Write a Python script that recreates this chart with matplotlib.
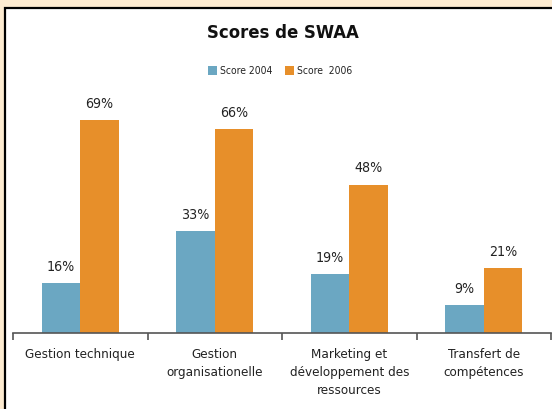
import numpy as np
import matplotlib
matplotlib.use("Agg")
import matplotlib.pyplot as plt
from matplotlib.patches import Rectangle

# donnees
categories = ["Gestion technique", "Gestion\norganisationelle",
              "Marketing et\ndéveloppement des\nressources", "Transfert de\ncompétences"]
score_2004 = [16, 33, 19, 9]
score_2006 = [69, 66, 48, 21]
series_names = ["Score 2004", "Score  2006"]

bleu = "#6ba7c2"
orange = "#e78f2a"
texte = "#222222"

plt.rcParams['font.family'] = ['DejaVu Sans']
plt.rcParams['font.stretch'] = 'condensed'

W, H = 552, 409
fig = plt.figure(figsize=(W / 100, H / 100), dpi=100)
fig.patch.set_facecolor("#fdebd0")

# cadre blanc
cadre = Rectangle((5.5 / W, -0.1), 1.2, 1 - 8.5 / H + 0.1,
                  transform=fig.transFigure, facecolor="white",
                  edgecolor="black", linewidth=1.6, zorder=-5)
fig.patches.append(cadre)

ax_left, ax_right = 13 / W, 551 / W
ax_bottom = (H - 332.5) / H
ax_top = (H - 86.1) / H
ax = fig.add_axes([ax_left, ax_bottom, ax_right - ax_left, ax_top - ax_bottom])
ax.set_facecolor("none")
ax.set_zorder(2)

x = np.arange(len(categories))
w = 0.286
b1 = ax.bar(x - w / 2, score_2004, w, color=bleu, label=series_names[0])
b2 = ax.bar(x + w / 2, score_2006, w, color=orange, label=series_names[1])

for bars, vals in ((b1, score_2004), (b2, score_2006)):
    for rect, v in zip(bars, vals):
        ax.text(rect.get_x() + rect.get_width() / 2, v + 3, f"{v}%",
                ha="center", va="bottom", fontsize=10.2, color=texte)

ax.set_xlim(-0.5, len(categories) - 0.5)
ax.set_ylim(0, 80)
for s in ["top", "left", "right"]:
    ax.spines[s].set_visible(False)
ax.spines["bottom"].set_color("#555555")
ax.spines["bottom"].set_linewidth(1.2)
ax.set_yticks([])
ax.set_xticks(x)
ax.set_xticklabels(categories, fontsize=9.6, color=texte, linespacing=1.48)
ax.tick_params(axis="x", which="major", length=0, pad=11.5)
ax.set_xticks(np.arange(-0.5, len(categories)), minor=True)
ax.tick_params(axis="x", which="minor", length=5, width=1.2, color="#555555")

fig.text(283 / W, (H - 33) / H, "Scores de SWAA", ha="center", va="center",
         fontsize=13.2, fontweight="bold", color="#111111")

leg = fig.legend(loc="center", bbox_to_anchor=(280 / W, (H - 71) / H), ncol=2,
                 frameon=False, fontsize=7.4, handlelength=0.9, handleheight=0.9,
                 handletextpad=0.3, columnspacing=1.2, labelcolor=texte)

fig.savefig("out.png", dpi=100)
